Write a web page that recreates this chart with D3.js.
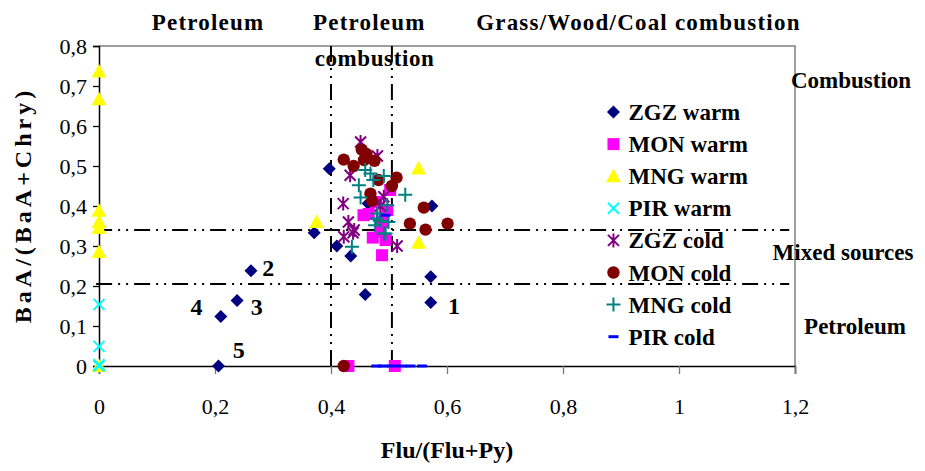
<!DOCTYPE html>
<html>
<head>
<meta charset="utf-8">
<script src="https://cdn.jsdelivr.net/npm/d3@7"></script>
<style>
body { margin:0; background:#fff; }
text { font-family:"Liberation Serif","Times New Roman",serif; }
</style>
</head>
<body>
<script>
// series: [Flu/(Flu+Py), BaA/(BaA+Chry)]
var zgzWarm = [[0.206,0],[0.210,0.124],[0.238,0.164],[0.262,0.238],[0.397,0.493],[0.371,0.333],[0.410,0.30],
  [0.434,0.275],[0.459,0.179],[0.572,0.223],[0.572,0.159],[0.574,0.40],[0.464,0.406]];
var monWarm = [[0.43,0],[0.51,0],[0.488,0.277],[0.456,0.377],[0.472,0.321],[0.485,0.335],[0.494,0.315],
  [0.497,0.39],[0.502,0.44],[0.465,0.38],[0.478,0.41],[0.49,0.36]];
var mngWarm = [[0,0.736],[0,0.667],[0,0.388],[0,0.36],[0,0.345],[0,0.285],[0,0],[0.375,0.36],[0.551,0.494],[0.551,0.308]];
var pirWarm = [[0,0.154],[0,0.049],[0,0],[0,0.003]];
var zgzCold = [[0.451,0.56],[0.48,0.525],[0.433,0.477],[0.421,0.406],[0.43,0.36],[0.422,0.323],[0.438,0.333],
  [0.491,0.423],[0.514,0.30],[0.485,0.40],[0.44,0.34]];
var monCold = [[0.422,0],[0.422,0.516],[0.439,0.50],[0.453,0.541],[0.461,0.53],[0.457,0.515],[0.475,0.513],
  [0.482,0.465],[0.513,0.471],[0.505,0.45],[0.468,0.431],[0.471,0.413],[0.56,0.396],[0.536,0.356],[0.563,0.341],[0.601,0.356]];
var mngCold = [[0.459,0.49],[0.468,0.481],[0.491,0.475],[0.448,0.452],[0.473,0.465],[0.451,0.421],[0.528,0.428],
  [0.497,0.402],[0.48,0.381],[0.484,0.363],[0.476,0.352],[0.499,0.36],[0.491,0.331],[0.436,0.298],[0.479,0.369],[0.494,0.331]];
var pirCold = [[0.478,0],[0.49,0],[0.505,0],[0.522,0],[0.537,0],[0.557,0],[0.494,0.377]];

var seriesNames = ["ZGZ warm","MON warm","MNG warm","PIR warm","ZGZ cold","MON cold","MNG cold","PIR cold"];
var seriesData = [zgzWarm,monWarm,mngWarm,pirWarm,zgzCold,monCold,mngCold,pirCold];
var seriesColors = ["#000080","#ff00ff","#ffff00","#00ffff","#800080","#800000","#008080","#0000ff"];
var seriesMarkers = ["diamond","square","triangle","x","star","circle","plus","dash"];

var xTicks = [0,0.2,0.4,0.6,0.8,1,1.2];
var yTicks = [0,0.1,0.2,0.3,0.4,0.5,0.6,0.7,0.8];
var xLimits = [0.4,0.505];   // Flu/(Flu+Py) thresholds
var yLimits = [0.205,0.34];  // BaA/(BaA+Chry) thresholds

// numbered samples
var sampleLabels = [["1",0.612,0.15],["2",0.292,0.245],["3",0.272,0.148],["4",0.168,0.148],["5",0.241,0.04]];
var topLabels = [["Petroleum",0.188],["Petroleum",0.466],["Grass/Wood/Coal combustion",0.93]];
var sideLabels = [["Combustion",0.715,851],["Mixed sources",0.285,843],["Petroleum",0.10,855]];

var margin = {left:99,top:46};
var width = 696, height = 320;

var x = d3.scaleLinear().domain([0,1.2]).range([0,width]);
var y = d3.scaleLinear().domain([0,0.8]).range([height,0]);
var fmt = function(d){ return String(+d.toFixed(1)).replace(".",","); };

var svg = d3.select("body").append("svg").attr("width",925).attr("height",471);
var g = svg.append("g").attr("transform","translate("+margin.left+","+margin.top+")");

// plot frame (top/right grey)
g.append("path").attr("d","M0,0H"+x(1.2)+"V"+y(0)).attr("fill","none").attr("stroke","#808080").attr("stroke-width",1.5);

// threshold lines
var dashes = "16,6,2,6,2,6";
g.selectAll(".hl").data(yLimits).enter().append("line")
  .attr("x1",x(-0.005)).attr("x2",x(1.19)).attr("y1",d=>y(d)).attr("y2",d=>y(d))
  .attr("stroke","#000").attr("stroke-width",2).attr("stroke-dasharray",dashes);
g.selectAll(".vl").data(xLimits).enter().append("line")
  .attr("x1",d=>x(d)).attr("x2",d=>x(d)).attr("y1",y(0.8)).attr("y2",y(0))
  .attr("stroke","#000").attr("stroke-width",2).attr("stroke-dasharray",dashes);

// axes
var yAxis = d3.axisLeft(y).tickValues(yTicks).tickFormat(fmt).tickSize(6).tickPadding(6);
var xAxis = d3.axisBottom(x).tickValues(xTicks).tickFormat(fmt).tickSize(8).tickPadding(24);
var ya = g.append("g").call(yAxis);
var xa = g.append("g").attr("transform","translate(0,"+height+")").call(xAxis);
[ya,xa].forEach(function(a){
  a.select(".domain").attr("stroke","#000").attr("stroke-width",1.5);
  a.selectAll(".tick line").attr("stroke","#000").attr("stroke-width",1.3);
  a.selectAll("text").attr("font-family","Liberation Serif, serif").attr("font-size",22).attr("fill","#000");
});
xa.selectAll(".tick line").attr("stroke","#777");

function marker(type){
  switch(type){
    case "diamond": return "M0,-6.5L6.5,0L0,6.5L-6.5,0Z";
    case "square": return "M-6,-6H6V6H-6Z";
    case "triangle": return "M0,-7.5L7.5,6L-7.5,6Z";
    case "circle": return "M-6.2,0A6.2,6.2 0 1,0 6.2,0A6.2,6.2 0 1,0 -6.2,0Z";
    case "x": return "M-5.5,-5.5L5.5,5.5M-5.5,5.5L5.5,-5.5";
    case "star": return "M-5.5,-5.5L5.5,5.5M-5.5,5.5L5.5,-5.5M0,-7L0,7";
    case "plus": return "M-7,0H7M0,-7V7";
    case "dash": return "M-5,-1.5H5V1.5H-5Z";
  }
}
function styleMarker(sel,i){
  var t = seriesMarkers[i], c = seriesColors[i];
  var stroked = (t=="x"||t=="star"||t=="plus");
  sel.attr("d",marker(t))
    .attr("fill",stroked ? "none" : c)
    .attr("stroke",stroked ? c : "none")
    .attr("stroke-width",stroked ? 2 : 0);
}

seriesData.forEach(function(data,i){
  g.append("g").selectAll("path").data(data).enter().append("path")
    .attr("transform",d=>"translate("+x(d[0])+","+y(d[1])+")")
    .call(styleMarker,i);
});

// sample numbers
g.selectAll(".num").data(sampleLabels).enter().append("text")
  .attr("x",d=>x(d[1])).attr("y",d=>y(d[2])).attr("text-anchor","middle").attr("dy","0.35em")
  .attr("font-weight","bold").attr("font-size",24).text(d=>d[0]);

// legend
var legend = g.append("g").attr("transform","translate("+(x(0.887))+","+y(0.635)+")");
seriesNames.forEach(function(name,i){
  var row = legend.append("g").attr("transform","translate(0,"+(i*32.1)+")");
  row.append("path").call(styleMarker,i);
  row.append("text").attr("x",15).attr("dy","0.35em").attr("font-weight","bold").attr("font-size",23).text(name);
});

// region labels
svg.selectAll(".top").data(topLabels).enter().append("text")
  .attr("x",d=>margin.left+x(d[1])).attr("y",30).attr("text-anchor","middle")
  .attr("font-weight","bold").attr("font-size",23).attr("letter-spacing",1.2).text(d=>d[0]);
svg.append("text").attr("x",margin.left+x(0.475)).attr("y",66).attr("text-anchor","middle")
  .attr("font-weight","bold").attr("font-size",23).attr("letter-spacing",0.6).text("combustion");
svg.selectAll(".side").data(sideLabels).enter().append("text")
  .attr("x",d=>d[2]).attr("y",d=>margin.top+y(d[1])).attr("dy","0.35em").attr("text-anchor","middle")
  .attr("font-weight","bold").attr("font-size",23).text(d=>d[0]);

// axis titles
svg.append("text").attr("x",margin.left+width/2).attr("y",458).attr("text-anchor","middle")
  .attr("font-weight","bold").attr("font-size",24).text("Flu/(Flu+Py)");
svg.append("text").attr("transform","translate(31,205) rotate(-90)").attr("text-anchor","middle")
  .attr("font-weight","bold").attr("font-size",24).attr("letter-spacing",4).text("BaA/(BaA+Chry)");
</script>
</body>
</html>
